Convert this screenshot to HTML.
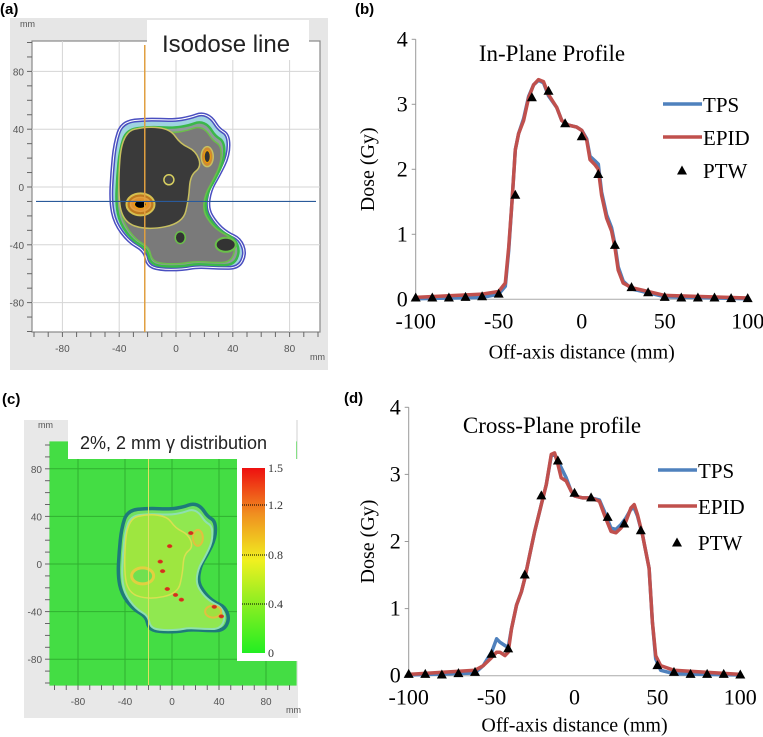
<!DOCTYPE html>
<html><head><meta charset="utf-8">
<style>
body{margin:0;background:#fff;width:763px;height:737px;overflow:hidden;font-family:"Liberation Sans",sans-serif}
svg{position:absolute;left:0;top:0}
.lab{font-family:"Liberation Sans",sans-serif;font-weight:bold;font-size:15px}
.ser{font-family:"Liberation Serif",serif}
</style></head>
<body>
<svg id="fig" width="763" height="737" viewBox="0 0 763 737">
  <text class="lab" x="0" y="14">(a)</text>
  <text class="lab" x="355" y="14">(b)</text>
  <text class="lab" x="2" y="404">(c)</text>
  <text class="lab" x="344" y="403">(d)</text>
  <g id="pa"></g>
  <g id="pc"></g>
  <g id="pb"></g>
  <g id="pd"></g>
</svg>
<script>
// ---------- chart data ----------
const bEpidX=[-100,-60,-50,-46,-44,-42,-40,-38,-35,-32,-29,-26,-23,-20,-15,-12,-8,-3,0,3,5,8,10,12,15,18,20,22,25,30,40,50,100];
const bEpidY=[0.03,0.08,0.12,0.25,0.8,1.5,2.3,2.55,2.75,3.1,3.3,3.38,3.35,3.15,2.95,2.75,2.68,2.65,2.6,2.45,2.15,2.07,2.0,1.6,1.25,1.05,0.8,0.45,0.25,0.18,0.12,0.06,0.02];
const bTpsX=[-100,-60,-50,-46,-44,-42,-40,-38,-35,-32,-29,-26,-23,-20,-15,-12,-8,-3,0,3,5,8,10,12,15,18,20,22,25,30,40,50,100];
const bTpsY=[0.01,0.03,0.08,0.2,0.75,1.5,2.3,2.55,2.78,3.12,3.3,3.37,3.33,3.13,2.95,2.75,2.68,2.65,2.6,2.47,2.2,2.13,2.08,1.65,1.3,1.1,0.85,0.5,0.28,0.16,0.1,0.04,0.01];
const bPtwX=[-100,-90,-80,-70,-60,-50,-40,-30,-20,-10,0,10,20,30,40,50,60,70,80,90,100];
const bPtwY=[0.02,0.02,0.02,0.03,0.04,0.08,1.6,3.1,3.2,2.7,2.5,1.92,0.83,0.18,0.1,0.03,0.02,0.02,0.02,0.01,0.01];

const dEpidX=[-100,-60,-55,-50,-47,-45,-42,-40,-38,-35,-32,-30,-27,-24,-20,-17,-14,-12,-10,-8,-5,-2,0,5,10,15,18,22,25,28,31,34,36,38,41,45,47,49,52,60,100];
const dEpidY=[0.02,0.08,0.15,0.27,0.35,0.35,0.3,0.35,0.7,1.05,1.25,1.45,1.8,2.15,2.55,2.85,3.3,3.32,3.15,2.95,2.9,2.75,2.68,2.65,2.65,2.6,2.4,2.15,2.13,2.2,2.3,2.5,2.55,2.4,2.1,1.6,0.8,0.3,0.15,0.08,0.02];
const dTpsX=[-100,-60,-55,-50,-47,-45,-42,-40,-38,-35,-32,-30,-27,-24,-20,-17,-14,-12,-10,-8,-5,-2,0,5,10,15,18,22,25,28,31,34,36,38,41,45,47,49,52,60,100];
const dTpsY=[0.01,0.04,0.15,0.35,0.55,0.5,0.45,0.42,0.7,1.05,1.25,1.45,1.8,2.15,2.55,2.85,3.28,3.3,3.2,3.1,2.95,2.75,2.68,2.65,2.65,2.62,2.45,2.2,2.18,2.25,2.35,2.48,2.5,2.38,2.1,1.6,0.8,0.25,0.08,0.03,0.01];
const dPtwX=[-100,-90,-80,-70,-60,-50,-40,-30,-20,-10,0,10,20,30,40,50,60,70,80,90,100];
const dPtwY=[0.02,0.02,0.01,0.03,0.05,0.32,0.4,1.5,2.68,3.2,2.72,2.65,2.36,2.26,2.16,0.15,0.05,0.02,0.02,0.02,0.01];

const xTicks=[-100,-50,0,50,100];
const yTicks=[0,1,2,3,4];

const NS="http://www.w3.org/2000/svg";
function mk(tag,attrs,parent){const e=document.createElementNS(NS,tag);for(const k in attrs)e.setAttribute(k,attrs[k]);parent.appendChild(e);return e;}

function chart(g,cfg){
  const X=v=>cfg.x0+(v+100)/200*(cfg.x1-cfg.x0);
  const Y=v=>cfg.y0-v/4*(cfg.y0-cfg.y4);
  let e=mk('line',{x1:X(-100),y1:cfg.y4,x2:X(-100),y2:cfg.y0,stroke:'#999','stroke-width':1},g);
  
  
  e=mk('line',{x1:X(-100),y1:cfg.y0,x2:X(100),y2:cfg.y0,stroke:'#aaa','stroke-width':1},g);
  
  
  yTicks.forEach(t=>{
    mk('line',{x1:X(-100)-4,y1:Y(t),x2:X(-100),y2:Y(t),stroke:'#999'},g);
    const tx=mk('text',{x:X(-100)-8,y:Y(t)+7,'text-anchor':'end','font-size':22,class:'ser'},g);tx.textContent=t;
    
    
  });
  xTicks.forEach(t=>{
    const tx=mk('text',{x:X(t),y:cfg.y0+29,'text-anchor':'middle','font-size':22,class:'ser'},g);tx.textContent=t;
    
    
  });
  let t=mk('text',{x:(X(-100)+X(100))/2,y:cfg.y0+cfg.xto,'text-anchor':'middle','font-size':20,class:'ser'},g);t.textContent='Off-axis distance (mm)';
  
  
  t=mk('text',{x:0,y:0,'text-anchor':'middle','font-size':20,class:'ser',transform:`translate(${cfg.ytx},${(cfg.y0+cfg.y4)/2}) rotate(-90)`},g);t.textContent='Dose (Gy)';
  
  
  t=mk('text',{x:cfg.tx,y:cfg.ty,'text-anchor':'middle','font-size':23,class:'ser'},g);t.textContent=cfg.title;
  
  
  const line=(xs,ys)=>xs.map((v,i)=>(i?'L':'M')+X(v).toFixed(1)+','+Y(ys[i]).toFixed(1)).join(' ');
  let p=mk('path',{d:line(cfg.tx_,cfg.ty_),fill:'none',stroke:'#4f81bd','stroke-width':3.5,'stroke-linejoin':'round','stroke-linecap':'round'},g);
  
  
  p=mk('path',{d:line(cfg.ex,cfg.ey),fill:'none',stroke:'#c0504d','stroke-width':3.5,'stroke-linejoin':'round','stroke-linecap':'round'},g);
  
  
  const tri=(cx,cy)=>`M${cx},${cy-5.5} L${cx+5},${cy+3.5} L${cx-5},${cy+3.5}Z`;
  cfg.px.forEach((v,i)=>{
    const m=mk('path',{d:tri(X(v),Y(cfg.py[i])),fill:'#000'},g);
    
    
  });
  const L=cfg.leg;
  let le=mk('line',{x1:L.x,y1:L.y,x2:L.x+39,y2:L.y,stroke:'#4f81bd','stroke-width':3.5},g);
  
  
  t=mk('text',{x:L.x+40,y:L.y+8,'font-size':21,class:'ser'},g);t.textContent='TPS';
  
  
  le=mk('line',{x1:L.x,y1:L.y+L.d,x2:L.x+39,y2:L.y+L.d,stroke:'#c0504d','stroke-width':3.5},g);
  
  
  t=mk('text',{x:L.x+40,y:L.y+L.d+8,'font-size':21,class:'ser'},g);t.textContent='EPID';
  
  
  le=mk('path',{d:tri(L.x+19,L.y+2*L.d+1),fill:'#000'},g);
  
  
  t=mk('text',{x:L.x+40,y:L.y+2*L.d+8,'font-size':21,class:'ser'},g);t.textContent='PTW';
  
  
}
chart(document.getElementById('pb'),{x0:415.7,x1:747.7,y0:299.3,y4:39.3,ytx:374,tx:552,ty:61,xto:59,title:'In-Plane Profile',
  ex:bEpidX,ey:bEpidY,tx_:bTpsX,ty_:bTpsY,px:bPtwX,py:bPtwY,leg:{x:663,y:104,d:33}});
chart(document.getElementById('pd'),{x0:408.7,x1:740.3,y0:675.7,y4:407.3,ytx:374,tx:552,ty:433,xto:56,title:'Cross-Plane profile',
  ex:dEpidX,ey:dEpidY,tx_:dTpsX,ty_:dTpsY,px:dPtwX,py:dPtwY,leg:{x:658,y:470,d:36}});

// ---------- map panels ----------
function smooth(pts){
  const n=pts.length,m=(a,b)=>[(a[0]+b[0])/2,(a[1]+b[1])/2];
  let s=m(pts[n-1],pts[0]);let d=`M${s[0].toFixed(1)},${s[1].toFixed(1)}`;
  for(let i=0;i<n;i++){const q=m(pts[i],pts[(i+1)%n]);d+=` Q${pts[i][0].toFixed(1)},${pts[i][1].toFixed(1)} ${q[0].toFixed(1)},${q[1].toFixed(1)}`;}
  return d+'Z';
}
const outline=[[-43,30],[-38,45],[-20,47],[-2,46],[10,48],[18,51],[25,48],[30,40],[37,36],[37,22],[30,8],[24,-2],[22,-15],[28,-25],[36,-32],[45,-36],[49,-46],[44,-56],[30,-56],[15,-55],[5,-57],[-12,-57],[-20,-54],[-22,-44],[-33,-38],[-43,-25],[-46,-10],[-45,10]];
const core=[[-38,38],[-20,42],[-4,40],[3,30],[14,25],[18,14],[10,8],[9,-8],[5,-25],[-20,-30],[-38,-24],[-41,0]];
const sc=(f,pts)=>pts.map(p=>f(p[0],p[1]));
function mapPanel(g,o){
  const F=(x,y)=>[o.cx+o.sx*x,o.cy-o.sy*y];
  mk('rect',{x:o.bx,y:o.by,width:o.bw,height:o.bh,fill:o.bg},g);
  mk('rect',{x:o.fx0,y:o.fy0,width:o.fx1-o.fx0,height:o.fy1-o.fy0,fill:o.plotbg,stroke:o.frame,'stroke-width':1.2},g);
  [-80,-40,0,40,80].forEach(v=>{
    const [gx]=F(v,0),[,gy]=F(0,v);
    mk('line',{x1:gx,y1:o.fy0,x2:gx,y2:o.fy1,stroke:o.grid,'stroke-width':1},g);
    mk('line',{x1:o.fx0,y1:gy,x2:o.fx1,y2:gy,stroke:o.grid,'stroke-width':1},g);
    let t=mk('text',{x:gx,y:o.fy1+20,'text-anchor':'middle','font-size':10,fill:'#555'},g);t.textContent=v;
    
    
    t=mk('text',{x:o.fx0-8,y:gy+4,'text-anchor':'end','font-size':10,fill:'#555'},g);t.textContent=v;
    
    
  });
  for(let v=-100;v<=100;v+=10){const [gx]=F(v,0),[,gy]=F(0,v);
    mk('line',{x1:gx,y1:o.fy1,x2:gx,y2:o.fy1+5,stroke:'#666'},g);
    mk('line',{x1:o.fx0-5,y1:gy,x2:o.fx0,y2:gy,stroke:'#666'},g);}
  let t=mk('text',{x:o.fx0-12,y:o.fy0-14,'font-size':9,fill:'#555'},g);t.textContent='mm';
  t=mk('text',{x:o.fx1-10,y:o.fy1+28,'font-size':9,fill:'#555'},g);t.textContent='mm';
  return F;
}
// Panel a
(function(){
  const g=document.getElementById('pa');
  const F=mapPanel(g,{bx:10,by:18,bw:318,bh:352,bg:'#e6e6e6',fx0:32,fy0:41,fx1:320,fy1:332,plotbg:'#fff',frame:'#888',grid:'#d5d5d5',cx:176,cy:187,sx:1.42,sy:1.445});
  mk('rect',{x:147,y:20,width:162,height:40,fill:'#fff'},g);
  const t=mk('text',{x:162,y:52,'font-size':24,fill:'#222'},g);t.textContent='Isodose line';
  
  
  const out=smooth(sc(F,outline));
  mk('path',{d:out,fill:'#9fd3e0',stroke:'#4a4fc0','stroke-width':4},g);
  mk('path',{d:out,fill:'none',stroke:'#fff','stroke-width':1},g);
  mk('path',{d:smooth(sc(F,outline.map(p=>[p[0]*0.92,p[1]*0.93-2]))),fill:'#8f9a9a',stroke:'#3bb84a','stroke-width':2.5},g);
  mk('path',{d:smooth(sc(F,outline.map(p=>[p[0]*0.86,p[1]*0.88-3]))),fill:'#7a7a7a',stroke:'#6ac04a','stroke-width':1.5},g);
  mk('path',{d:smooth(sc(F,core)),fill:'#3a3a3a',stroke:'#c8c060','stroke-width':1.5},g);
  const E=(x,y,rx,ry,fill,st,sw)=>{const [px,py]=F(x,y);mk('ellipse',{cx:px,cy:py,rx,ry,fill,stroke:st,'stroke-width':sw},g);};
  E(-25,-12,14,11,'#c07a20','#d6c050',2);E(-25,-12,10,7,'#e09030','#e0a040',1.5);E(-25,-12,6,4,'#000','#f0a000',1);
  E(22,21,6,10,'#d08a30','#c8c060',1.5);E(22,21,3,6,'#333','#f0a000',1);
  E(-5,5,5,5,'#444','#d8d060',1.5);E(35,-40,10,7,'#333','#6ac04a',2);E(3,-35,5,6,'#333','#6ac04a',1.5);
  let [x1]=F(-22,0);mk('line',{x1,y1:45,x2:x1,y2:332,stroke:'#e0a040','stroke-width':1.5},g);
  let [,y1]=F(0,-10);mk('line',{x1:36,y1,x2:316,y2:y1,stroke:'#2a5a9a','stroke-width':1.2},g);
})();
// Panel c
(function(){
  const g=document.getElementById('pc');
  const F=mapPanel(g,{bx:24,by:420,bw:274,bh:298,bg:'#e8e8e8',fx0:50,fy0:442,fx1:296,fy1:685,plotbg:'#44dd44',frame:'#44dd44',grid:'#2fb02f',cx:172,cy:564,sx:1.175,sy:1.19});
  mk('rect',{x:68,y:420,width:228,height:39,fill:'#fff'},g);
  let t=mk('text',{x:80,y:449,'font-size':18,fill:'#222'},g);t.textContent='2%, 2 mm γ distribution';
  
  
  const out=smooth(sc(F,outline));
  mk('path',{d:out,fill:'#70e060',stroke:'#1e7a7a','stroke-width':3.5},g);
  mk('path',{d:smooth(sc(F,outline.map(p=>[p[0]*0.93,p[1]*0.94-2]))),fill:'#90e850',stroke:'#8fe0b0','stroke-width':2},g);
  mk('path',{d:smooth(sc(F,core)),fill:'#9ee640',stroke:'#d8e050','stroke-width':1.5},g);
  const E=(x,y,rx,ry,fill,st,sw)=>{const [px,py]=F(x,y);mk('ellipse',{cx:px,cy:py,rx,ry,fill,stroke:st,'stroke-width':sw},g);};
  E(-25,-10,11,8,'#70e050','#e0d040',3);E(22,22,5,8,'#b0e040','#e0c040',2);E(35,-40,8,6,'#a0e040','#e0c040',2);
  [[-10,2],[-2,15],[16,26],[-4,-21],[3,-26],[8,-30],[36,-36],[42,-44],[-8,-6]].forEach(p=>E(p[0],p[1],2.5,1.8,'#d03020','#e06020',0.5));
  let [x1]=F(-20,0);mk('line',{x1,y1:459,x2:x1,y2:685,stroke:'#e0e060','stroke-width':1},g);
  mk('rect',{x:237,y:459,width:61,height:202,fill:'#fff'},g);
  mk('defs',{},g).innerHTML='<linearGradient id="cb" x1="0" y1="1" x2="0" y2="0"><stop offset="0" stop-color="#22ee22"/><stop offset="0.3" stop-color="#99ee22"/><stop offset="0.5" stop-color="#f0f020"/><stop offset="0.75" stop-color="#f09020"/><stop offset="1" stop-color="#ee1010"/></linearGradient>';
  const cb=mk('rect',{x:242,y:468,width:23,height:185,fill:'url(#cb)'},g);
  
  
  [['1.5',468],['1.2',505],['0.8',555],['0.4',604],['0',653]].forEach(([l,y],i)=>{
    if(i>0&&i<4)mk('line',{x1:242,y1:y,x2:268,y2:y,stroke:'#000','stroke-dasharray':'1,1'},g);
    const tt=mk('text',{x:268,y:y+4,'font-size':12,fill:'#333',class:'ser'},g);tt.textContent=l;
    
    
  });
})();
</script>
</body></html>
